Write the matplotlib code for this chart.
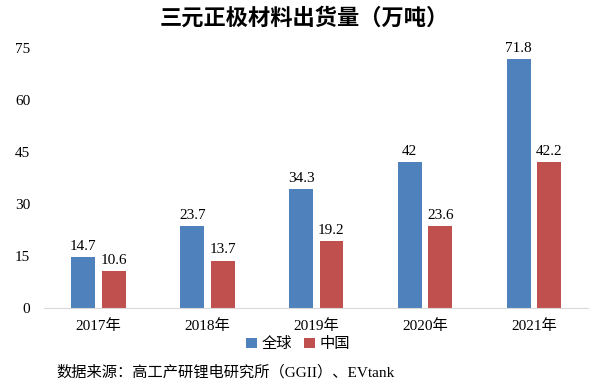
import numpy as np
import matplotlib.pyplot as plt

plt.rcParams['font.family'] = ['Liberation Serif', 'Noto Sans CJK SC']

years = ['2017年', '2018年', '2019年', '2020年', '2021年']
world = [14.7, 23.7, 34.3, 42, 71.8]
china = [10.6, 13.7, 19.2, 23.6, 42.2]
world_lbl = ['14.7', '23.7', '34.3', '42', '71.8']
china_lbl = ['10.6', '13.7', '19.2', '23.6', '42.2']

blue = '#4F81BD'
red = '#C0504D'

fig = plt.figure(figsize=(5.9, 3.87), dpi=100)
ax = fig.add_axes([0.075, 0.204, 0.922, 0.672])

x = np.arange(len(years))
w = 0.22
b1 = ax.bar(x - 0.14, world, w, color=blue, label='全球')
b2 = ax.bar(x + 0.14, china, w, color=red, label='中国')
ax.bar_label(b1, labels=world_lbl, padding=3, fontsize=11)
ax.bar_label(b2, labels=china_lbl, padding=3, fontsize=11)

ax.set_xlim(-0.5, 4.5)
ax.set_ylim(0, 75)
ax.set_yticks([0, 15, 30, 45, 60, 75])
ax.set_xticks(x)
ax.set_xticklabels(years, fontsize=11)
ax.tick_params(axis='y', labelsize=11, length=0, pad=10)
ax.tick_params(axis='x', length=0, pad=8)
for s in ['top', 'right', 'left']:
    ax.spines[s].set_visible(False)
ax.spines['bottom'].set_color('#D9D9D9')

fig.text(0.515, 0.953, '三元正极材料出货量（万吨）', ha='center', va='center',
         fontsize=16, fontweight='bold', family='Noto Sans CJK SC')
fig.legend(loc='center', bbox_to_anchor=(0.505, 0.11), ncol=2, frameon=False,
           fontsize=11, handlelength=0.7, handleheight=0.7, handletextpad=0.3,
           columnspacing=0.8, borderaxespad=0)
fig.text(0.095, 0.038, '数据来源：高工产研锂电研究所（GGII）、EVtank', ha='left',
         va='center', fontsize=11)

fig.savefig('out.png', dpi=100)
